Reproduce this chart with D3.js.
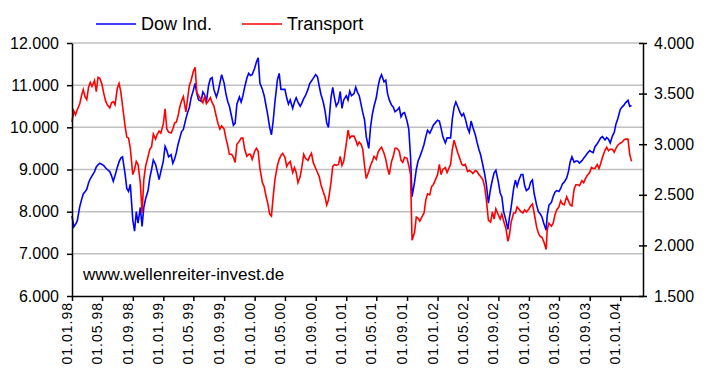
<!DOCTYPE html>
<html>
<head>
<meta charset="utf-8">
<script src="https://cdn.jsdelivr.net/npm/d3@7"></script>
<style>
  body { margin: 0; background: #fff; }
  svg { font-family: "Liberation Sans", Arial, sans-serif; }
</style>
</head>
<body>
<div id="vis"></div>
<script>
const FRAME_WIDTH = 711;
const FRAME_HEIGHT = 384;
const MARGINS = {left: 72, right: 68, top: 43, bottom: 88};

// weekly-ish readings (yy-mm-dd)
const dates = [
  "98-01-01","98-01-08","98-01-15","98-01-22","98-02-01","98-02-08","98-02-15","98-02-22","98-03-01","98-03-08","98-03-15","98-03-22",
  "98-04-01","98-04-08","98-04-15","98-04-22","98-05-01","98-05-08","98-05-15","98-05-22","98-06-01","98-06-08","98-06-15","98-06-22",
  "98-07-01","98-07-08","98-07-15","98-07-22","98-08-01","98-08-08","98-08-15","98-08-22","98-09-01","98-09-08","98-09-15","98-09-22",
  "98-10-01","98-10-08","98-10-15","98-10-22","98-11-01","98-11-08","98-11-15","98-11-22","98-12-01","98-12-08","98-12-15","98-12-22",
  "99-01-01","99-01-08","99-01-15","99-01-22","99-02-01","99-02-08","99-02-15","99-02-22","99-03-01","99-03-08","99-03-15","99-03-22",
  "99-04-01","99-04-08","99-04-15","99-04-22","99-05-01","99-05-08","99-05-15","99-05-22","99-06-01","99-06-08","99-06-15","99-06-22",
  "99-07-01","99-07-08","99-07-15","99-07-22","99-08-01","99-08-08","99-08-15","99-08-22","99-09-01","99-09-08","99-09-15","99-09-22",
  "99-10-01","99-10-08","99-10-15","99-10-22","99-11-01","99-11-08","99-11-15","99-11-22","99-12-01","99-12-08","99-12-15","99-12-22",
  "00-01-01","00-01-08","00-01-15","00-01-22","00-02-01","00-02-08","00-02-15","00-02-22","00-03-01","00-03-08","00-03-15","00-03-22",
  "00-04-01","00-04-08","00-04-15","00-04-22","00-05-01","00-05-08","00-05-15","00-05-22","00-06-01","00-06-08","00-06-15","00-06-22",
  "00-07-01","00-07-08","00-07-15","00-07-22","00-08-01","00-08-08","00-08-15","00-08-22","00-09-01","00-09-08","00-09-15","00-09-22",
  "00-10-01","00-10-08","00-10-15","00-10-22","00-11-01","00-11-08","00-11-15","00-11-22","00-12-01","00-12-08","00-12-15","00-12-22",
  "01-01-01","01-01-08","01-01-15","01-01-22","01-02-01","01-02-08","01-02-15","01-02-22","01-03-01","01-03-08","01-03-15","01-03-22",
  "01-04-01","01-04-08","01-04-15","01-04-22","01-05-01","01-05-08","01-05-15","01-05-22","01-06-01","01-06-08","01-06-15","01-06-22",
  "01-07-01","01-07-08","01-07-15","01-07-22","01-08-01","01-08-08","01-08-15","01-08-22","01-09-01","01-09-08","01-09-15","01-09-21",
  "01-10-01","01-10-08","01-10-15","01-10-22","01-11-01","01-11-08","01-11-15","01-11-22","01-12-01","01-12-08","01-12-15","01-12-22",
  "02-01-01","02-01-08","02-01-15","02-01-22","02-02-01","02-02-08","02-02-15","02-02-22","02-03-01","02-03-08","02-03-15","02-03-22",
  "02-04-01","02-04-08","02-04-15","02-04-22","02-05-01","02-05-08","02-05-15","02-05-22","02-06-01","02-06-08","02-06-15","02-06-22",
  "02-07-01","02-07-08","02-07-15","02-07-23","02-08-01","02-08-08","02-08-15","02-08-22","02-09-01","02-09-08","02-09-15","02-09-22",
  "02-10-01","02-10-09","02-10-15","02-10-22","02-11-01","02-11-08","02-11-15","02-11-22","02-12-01","02-12-08","02-12-15","02-12-22",
  "03-01-01","03-01-08","03-01-15","03-01-22","03-02-01","03-02-08","03-02-15","03-02-22","03-03-01","03-03-11","03-03-15","03-03-22",
  "03-04-01","03-04-08","03-04-15","03-04-22","03-05-01","03-05-08","03-05-15","03-05-22","03-06-01","03-06-08","03-06-15","03-06-22",
  "03-07-01","03-07-08","03-07-15","03-07-22","03-08-01","03-08-08","03-08-15","03-08-22","03-09-01","03-09-08","03-09-15","03-09-22",
  "03-10-01","03-10-08","03-10-15","03-10-22","03-11-01","03-11-08","03-11-15","03-11-22","03-12-01","03-12-08","03-12-15","03-12-22",
  "04-01-01","04-01-08","04-01-15","04-01-22","04-02-01","04-02-08","04-02-15"
];

const dowInd = [
  7900, 7640, 7700, 7780, 8120, 8280, 8420, 8470, 8530, 8680, 8780, 8850,
  8950, 9060, 9110, 9150, 9120, 9090, 9040, 9000, 8950, 8850, 8720, 8860,
  9050, 9180, 9270, 9300, 8900, 8550, 8480, 8650, 7800, 7540, 8000, 7730,
  8100, 7650, 8100, 8300, 8500, 8800, 9000, 9225, 9120, 8950, 8760, 8950,
  9200, 9550, 9450, 9300, 9350, 9150, 9250, 9400, 9600, 9750, 9900, 9950,
  10200, 10350, 10470, 10700, 10880, 11040, 10800, 10650, 10620, 10840, 10770, 10600,
  11000, 11150, 11180, 10900, 10720, 10850, 11050, 11250, 11050, 10800, 10620, 10500,
  10250, 10050, 10100, 10550, 10720, 10600, 10750, 10950, 11170, 11280, 11230, 11250,
  11400, 11550, 11650, 11050, 10900, 10750, 10530, 10300, 10000, 9820, 10150, 10600,
  11130, 11280, 10900, 10900, 10900, 10700, 10550, 10650, 10450, 10600, 10700, 10600,
  10500, 10580, 10680, 10750, 10900, 11040, 11100, 11160, 11250, 11200, 10980, 10780,
  10600, 10400, 10100, 10000, 10700, 10950, 10700, 10500, 10600, 10850, 10450, 10650,
  10750, 10650, 10860, 10750, 10800, 10950, 10830, 10750, 10550, 10350, 10180, 9780,
  9500, 10000, 10300, 10500, 10700, 10960, 11150, 11250, 11080, 11120, 10800, 10650,
  10530, 10480, 10370, 10400, 10470, 10250, 10330, 10350, 10150, 9950, 9300, 8356,
  8700, 9000, 9200, 9300, 9470, 9600, 9780, 9930, 9860, 9950, 10050, 10100,
  10170, 10150, 9980, 9780, 9630, 9750, 9750, 9750, 10200, 10480, 10600, 10500,
  10350, 10270, 10330, 10200, 9980, 9880, 10150, 10000, 9820, 9640, 9480, 9350,
  9100, 8900, 8650, 8200, 8550, 8750, 8920, 8980, 8700, 8450, 8350, 8000,
  7800, 7580, 7850, 8100, 8550, 8750, 8600, 8750, 8880, 8880, 8620, 8500,
  8550, 8700, 8750, 8430, 8150, 8000, 7950, 7880, 7730, 7560, 7900, 8150,
  8220, 8360, 8460, 8500, 8480, 8550, 8660, 8700, 8800, 8950, 9180, 9300,
  9170, 9200, 9200, 9150, 9210, 9270, 9320, 9380, 9450, 9420, 9400, 9540,
  9610, 9680, 9750, 9780, 9700, 9760, 9720, 9630, 9800, 9880, 10080, 10200,
  10420, 10480, 10520, 10580, 10640, 10500, 10520
];

const transport = [
  3220, 3330, 3290, 3340, 3400, 3480, 3540, 3470, 3440, 3560, 3610, 3570,
  3630, 3520, 3660, 3650, 3590, 3500, 3430, 3390, 3360, 3410, 3420, 3390,
  3550, 3600, 3520, 3380, 3180, 3070, 3060, 2960, 2700, 2750, 2830, 2800,
  2620, 2320, 2650, 2780, 2880, 2950, 2975, 3100, 3050, 3100, 3130, 3110,
  3200, 3350, 3150, 3120, 3110, 3150, 3210, 3220, 3280, 3370, 3430, 3470,
  3320, 3450, 3580, 3630, 3720, 3760, 3510, 3480, 3440, 3410, 3470, 3400,
  3430, 3460, 3410, 3380, 3270, 3200, 3150, 3180, 3150, 3060, 2990, 2900,
  2900, 2870, 2820, 3000, 3030, 3060, 3060, 2950, 2880, 2900, 2900, 2850,
  2930, 2960, 2930, 2760, 2620, 2580, 2490, 2420, 2310, 2290, 2480, 2650,
  2790, 2850, 2890, 2910, 2870, 2780, 2810, 2830, 2720, 2770, 2720, 2620,
  2680, 2780, 2900, 2860, 2840, 2880, 2910, 2820, 2760, 2720, 2680, 2600,
  2530, 2480, 2400, 2450, 2620, 2780, 2800, 2790, 2800, 2880, 2790, 2830,
  3000, 3140, 3060, 3080, 3080, 3040, 2990, 3020, 3000, 2950, 2790, 2660,
  2730, 2790, 2830, 2880, 2850, 2920, 2950, 2970, 2910, 2850, 2760, 2700,
  2830, 2880, 2960, 2960, 2930, 2840, 2820, 2870, 2860, 2790, 2700, 2050,
  2130, 2280, 2270, 2240, 2290, 2320, 2450, 2510, 2500, 2580, 2600, 2640,
  2700, 2800, 2700, 2750, 2770, 2720, 2760, 2800, 2950, 3040, 2980, 2920,
  2850, 2800, 2790, 2800, 2730, 2740, 2730, 2710, 2740, 2730, 2700, 2680,
  2650, 2580, 2450, 2250, 2230, 2330, 2260, 2360, 2300, 2260, 2310, 2240,
  2170, 2040, 2100, 2230, 2320, 2320, 2380, 2360, 2330, 2320, 2350, 2330,
  2360, 2390, 2410, 2320, 2180, 2120, 2090, 2080, 2040, 1960, 2150, 2220,
  2190, 2220, 2300, 2350, 2380, 2440, 2410, 2400, 2480, 2440, 2400, 2390,
  2560, 2600, 2600, 2590, 2640, 2620, 2660, 2690, 2720, 2770, 2760, 2760,
  2800, 2760, 2810, 2870, 2940, 2970, 2935, 2950, 2950, 2920, 2960, 2990,
  3010, 3020, 3040, 3050, 3050, 2900, 2830
];

const xTickLabels = [
  "01.01.98","01.05.98","01.09.98","01.01.99","01.05.99","01.09.99","01.01.00","01.05.00","01.09.00",
  "01.01.01","01.05.01","01.09.01","01.01.02","01.05.02","01.09.02","01.01.03","01.05.03","01.09.03","01.01.04"
];
const leftTicks = [6000, 7000, 8000, 9000, 10000, 11000, 12000];
const rightTicks = [1500, 2000, 2500, 3000, 3500, 4000];
const seriesNames = ["Dow Ind.", "Transport"];
const seriesColors = ["#0000ff", "#ff0000"];

const parseDate = d3.timeParse("%y-%m-%d");
const parseTick = d3.timeParse("%d.%m.%y");
const fmtTick = d3.timeFormat("%d.%m.%y");
const deFormat = d3.formatLocale({decimal: ",", thousands: ".", grouping: [3], currency: ["", " €"]}).format(",");

const FRAME = d3.select("#vis")
  .append("svg")
    .attr("width", FRAME_WIDTH)
    .attr("height", FRAME_HEIGHT);

const X_SCALE = d3.scaleTime()
  .domain([new Date(1998, 0, 1), new Date(2004, 3, 1)])
  .range([MARGINS.left, FRAME_WIDTH - MARGINS.right]);

const Y_LEFT = d3.scaleLinear()
  .domain([6000, 12000])
  .range([FRAME_HEIGHT - MARGINS.bottom, MARGINS.top]);

const Y_RIGHT = d3.scaleLinear()
  .domain([1500, 4000])
  .range([FRAME_HEIGHT - MARGINS.bottom, MARGINS.top]);

const x0 = X_SCALE.range()[0], x1 = X_SCALE.range()[1];

// gridlines
FRAME.append("g")
  .selectAll("line")
  .data(leftTicks.slice(1))
  .enter()
  .append("line")
    .attr("x1", x0).attr("x2", x1)
    .attr("y1", d => Y_LEFT(d)).attr("y2", d => Y_LEFT(d))
    .attr("stroke", "#c0c0c0")
    .attr("stroke-width", 1.5);

// watermark
FRAME.append("text")
  .attr("x", 83)
  .attr("y", 280)
  .attr("font-size", "17px")
  .attr("fill", "#000")
  .text("www.wellenreiter-invest.de");

// series
const pts = dates.map((d, i) => ({date: parseDate(d), dow: dowInd[i], tr: transport[i]}));

FRAME.append("path")
  .datum(pts)
  .attr("fill", "none")
  .attr("stroke", seriesColors[0])
  .attr("stroke-width", 1.6)
  .attr("d", d3.line().x(d => X_SCALE(d.date)).y(d => Y_LEFT(d.dow)));

FRAME.append("path")
  .datum(pts)
  .attr("fill", "none")
  .attr("stroke", seriesColors[1])
  .attr("stroke-width", 1.6)
  .attr("d", d3.line().x(d => X_SCALE(d.date)).y(d => Y_RIGHT(d.tr)));

// left axis
const leftAxis = FRAME.append("g")
  .attr("transform", "translate(" + x0 + ",0)")
  .call(d3.axisLeft(Y_LEFT).tickValues(leftTicks).tickFormat(deFormat).tickSize(5).tickPadding(8).tickSizeOuter(0));
leftAxis.selectAll("text").attr("font-size", "16px").attr("fill", "#000");

// right axis
const rightAxis = FRAME.append("g")
  .attr("transform", "translate(" + x1 + ",0)")
  .call(d3.axisRight(Y_RIGHT).tickValues(rightTicks).tickFormat(deFormat).tickSize(5).tickPadding(8).tickSizeOuter(0));
rightAxis.selectAll(".tick line").attr("x1", -4).attr("x2", 4);
rightAxis.selectAll("text").attr("font-size", "16px").attr("fill", "#000").attr("x", 11);

// bottom axis
const bottomAxis = FRAME.append("g")
  .attr("transform", "translate(0," + Y_LEFT(6000) + ")")
  .call(d3.axisBottom(X_SCALE).tickValues(xTickLabels.map(parseTick)).tickFormat(fmtTick).tickSize(5).tickSizeOuter(0));
bottomAxis.selectAll("text")
  .attr("transform", "rotate(-90)")
  .attr("text-anchor", "end")
  .attr("x", -6)
  .attr("y", 0)
  .attr("dy", "-0.5px")
  .attr("font-size", "14px")
  .attr("letter-spacing", "1px")
  .attr("fill", "#000");

FRAME.selectAll(".domain, .tick line").attr("stroke", "#000").attr("stroke-width", 1.5);

// legend
const legend = FRAME.append("g");
const legendX = [96, 242];
seriesNames.forEach((name, i) => {
  legend.append("line")
    .attr("x1", legendX[i]).attr("x2", legendX[i] + 40)
    .attr("y1", 24).attr("y2", 24)
    .attr("stroke", seriesColors[i])
    .attr("stroke-width", 1.5);
  legend.append("text")
    .attr("x", legendX[i] + 45)
    .attr("y", 29.5)
    .attr("font-size", "18px")
    .attr("fill", "#000")
    .text(name);
});
</script>
</body>
</html>
